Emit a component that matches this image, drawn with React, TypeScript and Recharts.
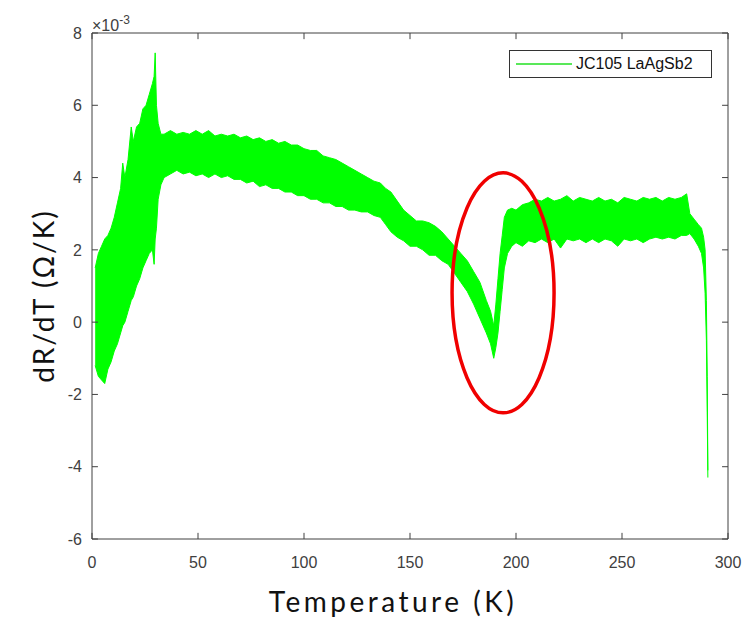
import React from "react"
import { ComposedChart, Area, XAxis, YAxis, ReferenceDot, ReferenceLine } from "recharts"

// temperature (K) and the low / high edge of the noisy dR/dT band (x10^-3 Ω/K)
const temps = [
  1.5, 3, 4.5, 6, 7.5, 9, 10.5, 12, 13.5, 14.5, 15.5, 17, 18.5, 19.5, 21, 22.5, 24, 25.5, 27, 28.5,
  29.3, 29.8, 30.4, 31.2, 32.5, 34, 37, 40, 43, 46, 49, 52, 55, 58, 61, 64, 67, 70, 73, 76,
  79, 82, 85, 88, 91, 94, 97, 100, 103, 106, 109, 112, 115, 118, 121, 124, 127, 130, 133, 136,
  138.5, 141, 144, 147, 150, 153, 156, 159, 162, 165, 168, 171, 174, 177, 180, 183, 186, 188, 189.5, 190.5,
  191.5, 192.5, 193.5, 194.5, 196, 198, 200, 203, 206, 209, 212, 215, 218, 221, 224, 227, 230, 233, 236, 239,
  242, 245, 248, 251, 254, 257, 260, 263, 266, 269, 272, 275, 278, 280.5, 282, 284, 286, 287.5, 288.5, 289.2,
  289.8, 290.2, 290.5,
]
const lowEdge = [
  -1.2, -1.5, -1.6, -1.7, -1.3, -1.1, -0.8, -0.6, -0.3, -0.1, 0.0, 0.3, 0.6, 0.7, 1.0, 1.2, 1.5, 1.7, 1.9, 2.0,
  1.6, 2.3, 2.6, 3.4, 3.8, 4.0, 4.1, 4.2, 4.1, 4.15, 4.05, 4.1, 4.0, 4.1, 4.0, 4.05, 3.95, 3.95, 3.85, 3.9,
  3.75, 3.8, 3.7, 3.7, 3.6, 3.6, 3.5, 3.5, 3.4, 3.4, 3.3, 3.3, 3.2, 3.2, 3.1, 3.1, 3.05, 3.05, 2.95, 2.9,
  2.7, 2.5, 2.35, 2.25, 2.1, 2.1, 2.0, 1.85, 1.85, 1.7, 1.6, 1.35, 1.1, 0.85, 0.5, 0.1, -0.3, -0.6, -1.0, -0.7,
  -0.3, 0.3, 0.9, 1.5, 1.9, 2.1, 2.2, 2.1, 2.25, 2.2, 2.3, 2.2, 2.3, 2.05, 2.3, 2.25, 2.3, 2.2, 2.3, 2.2,
  2.3, 2.25, 2.1, 2.3, 2.25, 2.3, 2.2, 2.3, 2.35, 2.3, 2.35, 2.3, 2.4, 2.4, 2.45, 2.3, 2.1, 1.9, 1.5, 0.8,
  -0.5, -2.5, -4.3,
]
const highEdge = [
  1.5, 1.9, 2.1, 2.3, 2.4, 2.6, 2.9, 3.3, 3.7, 4.4, 4.0, 4.5, 5.4, 5.0, 5.4, 5.5, 5.9, 6.0, 6.3, 6.6,
  6.8, 7.45, 6.0, 5.5, 5.2, 5.2, 5.3, 5.2, 5.25, 5.2, 5.3, 5.2, 5.3, 5.15, 5.2, 5.15, 5.2, 5.1, 5.15, 5.05,
  5.1, 5.0, 5.05, 4.95, 5.0, 4.9, 4.9, 4.8, 4.75, 4.75, 4.6, 4.55, 4.5, 4.4, 4.3, 4.2, 4.1, 4.0, 3.9, 3.85,
  3.7, 3.6, 3.35, 3.1, 2.95, 2.8, 2.8, 2.75, 2.65, 2.5, 2.3, 2.1, 1.9, 1.7, 1.4, 1.1, 0.6, 0.3, -0.1, 0.5,
  1.2, 1.9, 2.4, 2.9, 3.1, 3.15, 3.1, 3.25, 3.3, 3.4, 3.35, 3.45, 3.35, 3.4, 3.5, 3.35, 3.45, 3.4, 3.35, 3.45,
  3.35, 3.4, 3.3, 3.45, 3.4, 3.35, 3.45, 3.4, 3.45, 3.35, 3.45, 3.4, 3.45, 3.55, 3.0, 2.85, 2.7, 2.6, 2.35, 2.0,
  0.6, -1.5, -4.1,
]

const xTicks = [0, 50, 100, 150, 200, 250, 300]
const yTicks = [-6, -4, -2, 0, 2, 4, 6, 8]
const seriesName = "JC105 LaAgSb2"

// circled dip, in data units
const circleAt = { x: 193.9, y: 0.81 }

const data = temps.map((t, i) => ({ t, band: [lowEdge[i], highEdge[i]] }))

const axisGrey = "#404040"
const tickFont = { fill: axisGrey, fontSize: 16, fontFamily: "Liberation Sans, Arial, sans-serif" }
// inward tick length, in data units (about 6px)
const xTickLen = 0.17
const yTickLen = 2.8

export default function App() {
  return (
    <div style={{ position: "absolute", left: 0, top: 0, width: 752, height: 625, background: "#fff" }}>
      <ComposedChart width={752} height={625} data={data} margin={{ top: 33, right: 24, bottom: 0, left: 0 }}>
        <XAxis
          dataKey="t"
          type="number"
          domain={[0, 300]}
          ticks={xTicks}
          height={86}
          tick={tickFont}
          tickLine={false}
          tickMargin={12}
          axisLine={{ stroke: axisGrey }}
        />
        <YAxis
          type="number"
          domain={[-6, 8]}
          ticks={yTicks}
          width={92}
          tick={tickFont}
          tickLine={false}
          tickMargin={4}
          axisLine={{ stroke: axisGrey }}
        />
        <Area
          dataKey="band"
          name={seriesName}
          type="linear"
          stroke="#00ff00"
          strokeWidth={1}
          fill="#00ff00"
          fillOpacity={1}
          isAnimationActive={false}
        />
        {/* box on top and right */}
        <ReferenceLine y={8} stroke={axisGrey} strokeWidth={1} />
        <ReferenceLine x={300} stroke={axisGrey} strokeWidth={1} />
        {xTicks.map((v) => (
          <ReferenceLine key={"b" + v} segment={[{ x: v, y: -6 }, { x: v, y: -6 + xTickLen }]} stroke={axisGrey} />
        ))}
        {xTicks.map((v) => (
          <ReferenceLine key={"t" + v} segment={[{ x: v, y: 8 }, { x: v, y: 8 - xTickLen }]} stroke={axisGrey} />
        ))}
        {yTicks.map((v) => (
          <ReferenceLine key={"l" + v} segment={[{ x: 0, y: v }, { x: yTickLen, y: v }]} stroke={axisGrey} />
        ))}
        {yTicks.map((v) => (
          <ReferenceLine key={"r" + v} segment={[{ x: 300, y: v }, { x: 300 - yTickLen, y: v }]} stroke={axisGrey} />
        ))}
        <ReferenceDot
          x={circleAt.x}
          y={circleAt.y}
          ifOverflow="visible"
          shape={(p: any) => (
            <ellipse cx={p.cx} cy={p.cy} rx={51} ry={120} fill="none" stroke="#f00000" strokeWidth={3.5} />
          )}
        />
      </ComposedChart>
      <div
        style={{
          position: "absolute",
          left: 509,
          top: 50,
          width: 201,
          height: 26,
          border: "1px solid #333",
          background: "#fff",
          display: "flex",
          alignItems: "center",
          fontFamily: "Liberation Sans, Arial, sans-serif",
          fontSize: 16,
          color: "#111",
        }}
      >
        <svg width={66} height={10}>
          <line x1={6} x2={62} y1={5} y2={5} stroke="#22e022" strokeWidth={1.5} />
        </svg>
        <span>{seriesName}</span>
      </div>
      <div
        style={{
          position: "absolute",
          left: 92,
          top: 10,
          fontFamily: "Liberation Sans, Arial, sans-serif",
          fontSize: 16,
          lineHeight: "20px",
          color: axisGrey,
        }}
      >
        ×10<sup style={{ fontSize: 12, verticalAlign: "7px" }}>-3</sup>
      </div>
      <div
        style={{
          position: "absolute",
          left: 243,
          width: 300,
          top: 584,
          textAlign: "center",
          fontFamily: "Lato, sans-serif",
          fontSize: 28,
          letterSpacing: 3.5,
          color: "#111",
        }}
      >
        Temperature (K)
      </div>
      <div
        style={{
          position: "absolute",
          left: 43,
          top: 296,
          transform: "translate(-50%, -50%) rotate(-90deg)",
          whiteSpace: "nowrap",
          fontFamily: "Lato, sans-serif",
          fontSize: 28,
          letterSpacing: 2,
          color: "#111",
        }}
      >
        dR/dT (Ω/K)
      </div>
    </div>
  )
}
